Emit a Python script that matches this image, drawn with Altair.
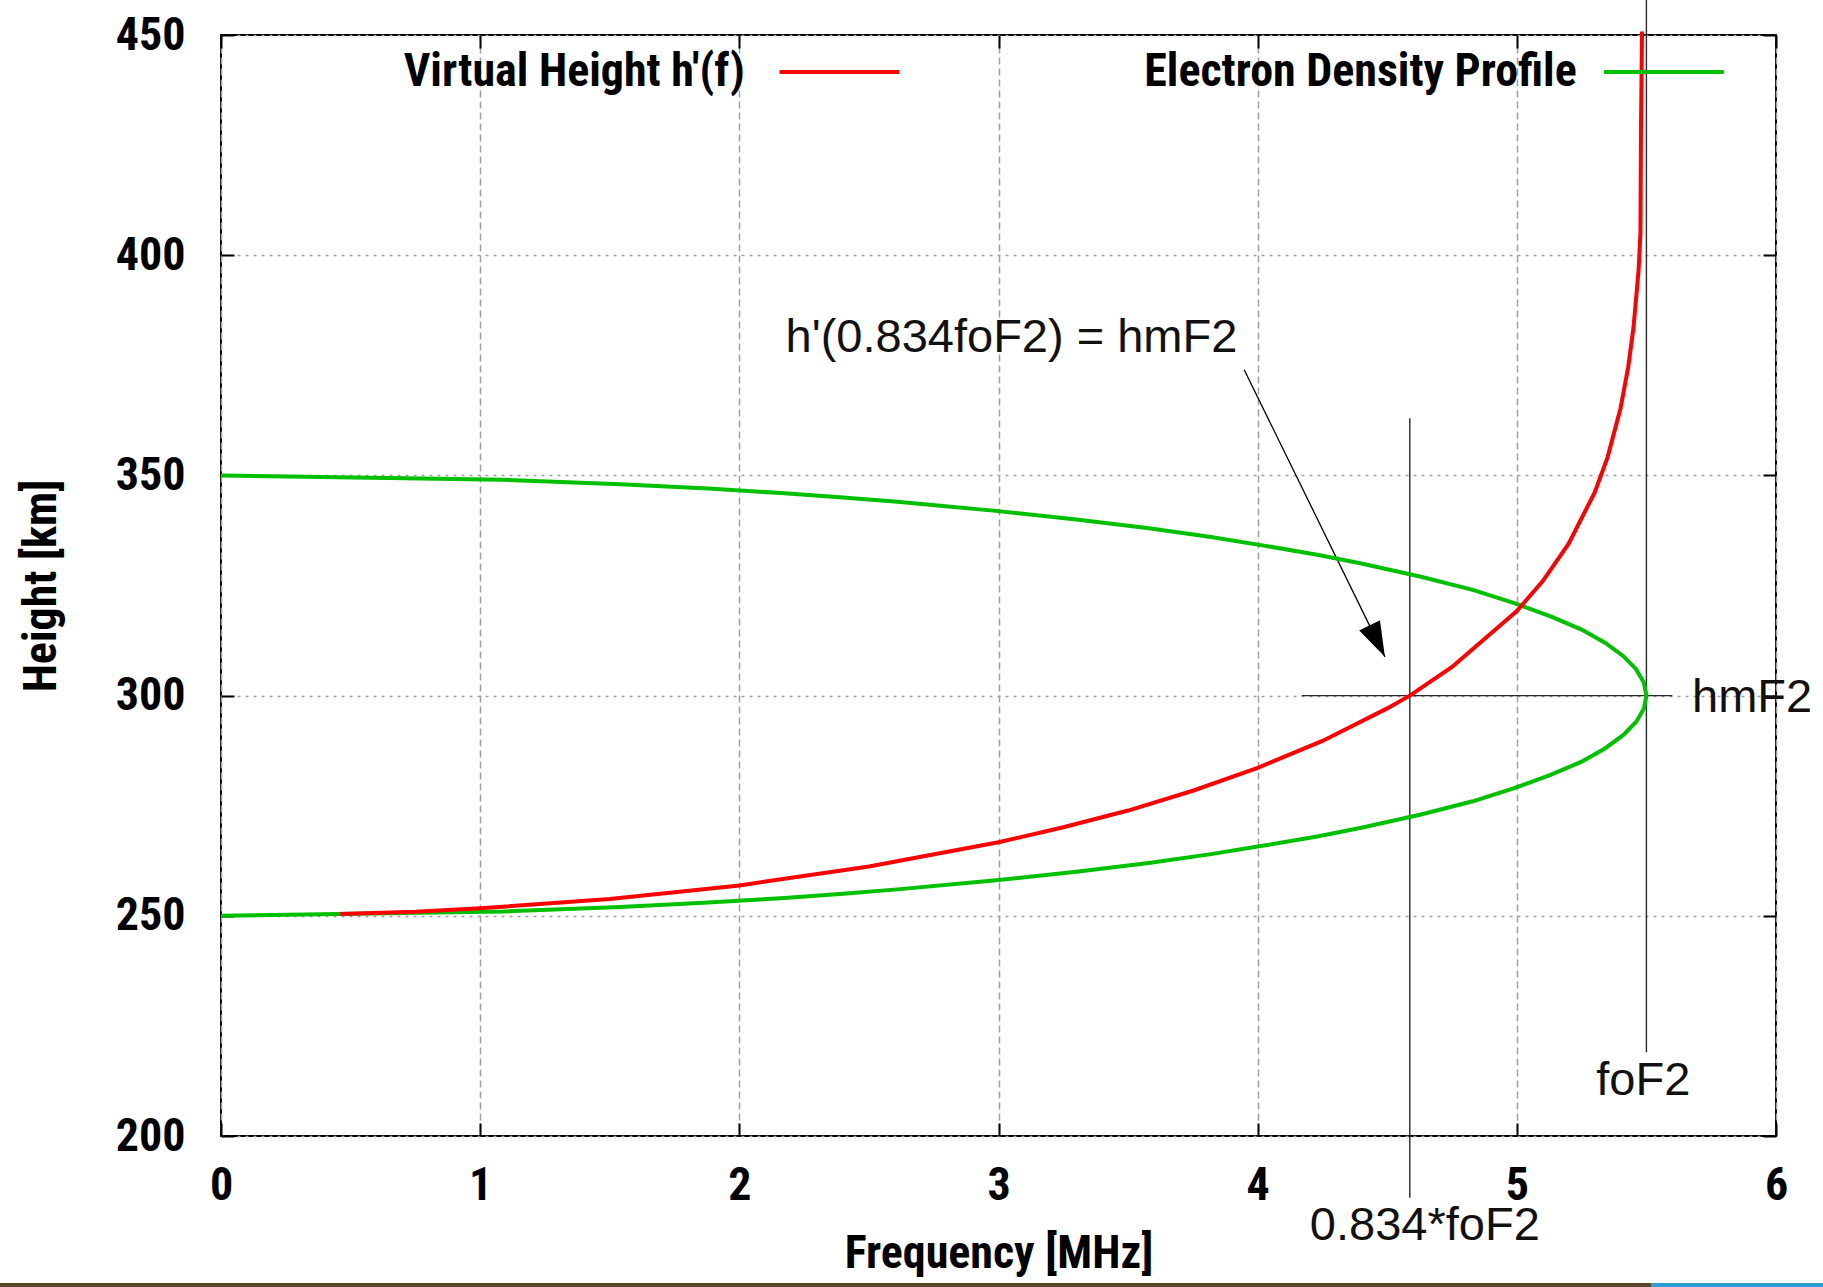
import altair as alt
import pandas as pd

# Virtual height h'(f) of the reflected echo
red_freq = [0.46, 0.75, 1.00, 1.50, 2.00, 2.50, 3.00, 3.25, 3.50, 3.75, 4.00, 4.25,
            4.50, 4.59, 4.75, 5.00, 5.10, 5.20, 5.30, 5.35, 5.40, 5.43, 5.45, 5.47,
            5.477, 5.479, 5.483]
red_height = [250.4, 250.9, 251.7, 253.8, 256.9, 261.2, 266.7, 270.1, 273.9, 278.4, 283.6, 289.7,
              297.1, 300.1, 306.5, 319.2, 326.0, 334.5, 346.1, 354.1, 365.2, 374.7, 383.5, 396.7,
              405.0, 428.0, 450.8]

# Electron density profile expressed as plasma frequency vs height
green_freq = [0.00, 1.09, 1.54, 1.88, 2.16, 2.40, 2.61, 2.98, 3.30, 3.58, 3.82, 4.03,
              4.23, 4.40, 4.63, 4.83, 4.99, 5.13, 5.25, 5.34, 5.41, 5.46, 5.49, 5.50,
              5.49, 5.46, 5.41, 5.34, 5.25, 5.13, 4.99, 4.83, 4.63, 4.40, 4.23, 4.03,
              3.82, 3.58, 3.30, 2.98, 2.61, 2.40, 2.16, 1.88, 1.54, 1.09, 0.00]
green_height = [250, 251, 252, 253, 254, 255, 256, 258, 260, 262, 264, 266,
                268, 270, 273, 276, 279, 282, 285, 288, 291, 294, 297, 300,
                303, 306, 309, 312, 315, 318, 321, 324, 327, 330, 332, 334,
                336, 338, 340, 342, 344, 345, 346, 347, 348, 349, 350]

# Layer parameters
FOF2 = 5.5
HMF2 = 300
RATIO = 0.834

x_ticks = [0, 1, 2, 3, 4, 5, 6]
y_ticks = [200, 250, 300, 350, 400, 450]

# Guide lines: 0.834*foF2 marker, foF2 marker, hmF2 marker
guide_x1 = [RATIO * FOF2, FOF2, 4.17]
guide_x2 = [RATIO * FOF2, FOF2, 5.60]
guide_y1 = [186, 219, HMF2]
guide_y2 = [363, 458, HMF2]

# Arrow from the annotation to h'(0.834 foF2)
arrow_x = [3.948, 4.491]
arrow_y = [374.0, 308.8]

# Annotation text
note_text = ["h'(0.834foF2) = hmF2", "foF2", "0.834*foF2"]
note_x = [3.05, 5.488, 4.645]
note_y = [378.0, 209.3, 176.3]
side_text = ["hmF2"]
side_x = [5.676]
side_y = [296.3]

# Key entries
key_text = ["Virtual Height h'(f)", "Electron Density Profile"]
key_colors = ["#ff0000", "#00c000"]
key_text_x = [2.021, 5.231]
key_line_x1 = [2.155, 5.336]
key_line_x2 = [2.617, 5.799]
key_text_y = 438.4
key_line_y = 441.6

# Slide footer strip (colour, left px, right px)
strip_colors = ["#584829", "#2b9fd4"]
strip_left = [-221, 1430]
strip_right = [1430, 1602]

W, H = 1555, 1101
NARROW = "Roboto Condensed, DejaVu Sans Condensed, Liberation Sans Narrow, Liberation Sans, sans-serif"
PLAIN = "Liberation Sans, Arial, sans-serif"
FS = 46

xs = alt.Scale(domain=[0, 6], nice=False, zero=False)
ys = alt.Scale(domain=[200, 450], nice=False, zero=False)

red_df = pd.DataFrame({"f": red_freq, "h": red_height, "i": list(range(len(red_freq)))})
green_df = pd.DataFrame({"f": green_freq, "h": green_height, "i": list(range(len(green_freq)))})
guide_df = pd.DataFrame({"x1": guide_x1, "x2": guide_x2, "y1": guide_y1, "y2": guide_y2})
arrow_df = pd.DataFrame({"x1": [arrow_x[0]], "x2": [arrow_x[1]], "y1": [arrow_y[0]], "y2": [arrow_y[1]]})
head_df = pd.DataFrame({"f": [arrow_x[1]], "h": [arrow_y[1]]})
note_df = pd.DataFrame({"t": note_text, "f": note_x, "h": note_y})
side_df = pd.DataFrame({"t": side_text, "f": side_x, "h": side_y})
key_df = pd.DataFrame({"t": key_text, "c": key_colors, "tx": key_text_x,
                       "x1": key_line_x1, "x2": key_line_x2,
                       "ty": [key_text_y] * 2, "ly": [key_line_y] * 2})

x_main = alt.Axis(
    values=x_ticks, format="d", title="Frequency [MHz]", domain=False, ticks=False, tickSize=0,
    grid=True, gridColor="#a0a0a0", gridWidth=1.5, gridDash=[7, 4],
    labelFont=NARROW, labelFontSize=FS, labelFontWeight="bold", labelColor="black",
    labelPadding=27, labelFlush=False, labelOverlap=False,
    titleFont=NARROW, titleFontSize=FS, titleFontWeight="bold", titleColor="black",
    titleX=W / 2, titleY=131, titleAlign="center", titleBaseline="alphabetic",
)
y_main = alt.Axis(
    values=y_ticks, format="d", title="Height [km]", domain=False, ticks=False, tickSize=0,
    grid=True, gridColor="#a0a0a0", gridWidth=1.5, gridDash=[3, 5],
    labelFont=NARROW, labelFontSize=FS, labelFontWeight="bold", labelColor="black",
    labelPadding=36, labelFlush=False, labelOverlap=False,
    titleFont=NARROW, titleFontSize=FS, titleFontWeight="bold", titleColor="black",
    titleX=-166, titleY=H / 2, titleAngle=270, titleAlign="center", titleBaseline="alphabetic",
)


def tick_axis(orient, offset, values):
    # inward-pointing tick marks along one edge of the frame
    return alt.Axis(orient=orient, offset=offset, values=values, labels=False, domain=False,
                    grid=False, ticks=True, tickSize=13, tickWidth=2, tickColor="black", title=None)


red_line = alt.Chart(red_df).mark_line(color="#ff0000", strokeWidth=4).encode(
    x=alt.X("f:Q", scale=xs, axis=x_main),
    y=alt.Y("h:Q", scale=ys, axis=y_main),
    order="i:Q",
)

green_line = alt.Chart(green_df).mark_line(color="#00c000", strokeWidth=4).encode(
    x=alt.X("f:Q", scale=xs, axis=tick_axis("top", -H, x_ticks)),
    y=alt.Y("h:Q", scale=ys, axis=tick_axis("right", -W, y_ticks)),
    order="i:Q",
)

guides = alt.Chart(guide_df).mark_rule(color="#2a2a2a", strokeWidth=1.4).encode(
    x=alt.X("x1:Q", scale=xs, axis=tick_axis("bottom", -H, x_ticks)),
    x2="x2:Q",
    y=alt.Y("y1:Q", scale=ys, axis=tick_axis("left", -W, y_ticks)),
    y2="y2:Q",
)

arrow_line = alt.Chart(arrow_df).mark_rule(color="black", strokeWidth=1.3).encode(
    x=alt.X("x1:Q", scale=xs, axis=None), x2="x2:Q",
    y=alt.Y("y1:Q", scale=ys, axis=None), y2="y2:Q",
)

arrow_head = alt.Chart(head_df).mark_point(
    shape="M0,0 L-0.66,-2 L0.66,-2 Z", filled=True, color="black", opacity=1,
    size=1225, angle=334, strokeWidth=0,
).encode(
    x=alt.X("f:Q", scale=xs, axis=None),
    y=alt.Y("h:Q", scale=ys, axis=None),
)

notes = alt.Chart(note_df).mark_text(
    font=PLAIN, fontSize=47, align="center", baseline="alphabetic", color="#111111"
).encode(
    x=alt.X("f:Q", scale=xs, axis=None),
    y=alt.Y("h:Q", scale=ys, axis=None),
    text="t:N",
)

side_note = alt.Chart(side_df).mark_text(
    font=PLAIN, fontSize=47, align="left", baseline="alphabetic", color="#111111"
).encode(
    x=alt.X("f:Q", scale=xs, axis=None),
    y=alt.Y("h:Q", scale=ys, axis=None),
    text="t:N",
)

key_labels = alt.Chart(key_df).mark_text(
    font=NARROW, fontSize=FS, fontWeight="bold", align="right", baseline="alphabetic", color="black"
).encode(
    x=alt.X("tx:Q", scale=xs, axis=None),
    y=alt.Y("ty:Q", scale=ys, axis=None),
    text="t:N",
)

key_lines = alt.Chart(key_df).mark_rule(strokeWidth=4).encode(
    x=alt.X("x1:Q", scale=xs, axis=None),
    x2="x2:Q",
    y=alt.Y("ly:Q", scale=ys, axis=None),
    color=alt.Color("c:N", scale=None),
)

# footer strip along the bottom edge of the page
strip = alt.Chart(pd.DataFrame({"c": strip_colors, "l": strip_left, "r": strip_right})).mark_rect().encode(
    x=alt.X("l:Q", scale=None, axis=None),
    x2="r:Q",
    y=alt.value(H + 147),
    y2=alt.value(H + 151),
    color=alt.Color("c:N", scale=None),
)

chart = alt.layer(
    guides, arrow_line, arrow_head, green_line, red_line, notes, side_note, key_labels, key_lines, strip
).resolve_axis(
    x="independent", y="independent"
).resolve_scale(
    x="independent"
).properties(
    width=W, height=H,
    autosize=alt.AutoSizeParams(type="none"),
    padding={"left": 221, "top": 35, "right": 47, "bottom": 151},
    background="white",
).configure_view(
    stroke="black", strokeWidth=2
)

chart.save("out.html", embed_options={"renderer": "svg", "actions": False})
